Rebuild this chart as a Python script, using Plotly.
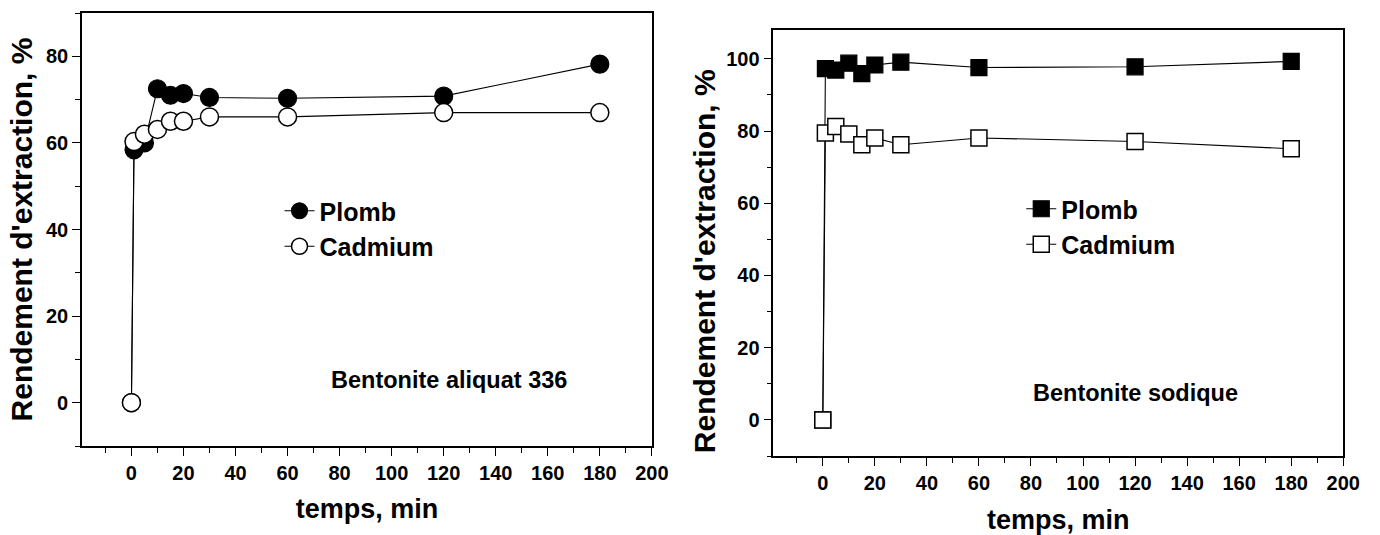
import plotly.graph_objects as go

# ---- data ----
temps = [0, 1, 5, 10, 15, 20, 30, 60, 120, 180]
plomb_aliquat = [0, 58.4, 60.0, 72.5, 71.0, 71.4, 70.5, 70.3, 70.8, 78.2]
cadmium_aliquat = [0, 60.3, 62.0, 63.1, 65.0, 65.0, 66.0, 66.0, 67.0, 67.0]
plomb_sodique = [0, 97.3, 96.9, 98.8, 95.9, 98.3, 99.1, 97.6, 97.8, 99.3]
cadmium_sodique = [0, 79.5, 81.3, 79.2, 76.2, 78.1, 76.2, 78.1, 77.1, 75.1]

x_ticks = [0, 20, 40, 60, 80, 100, 120, 140, 160, 180, 200]
y_ticks_left = [0, 20, 40, 60, 80]
y_ticks_right = [0, 20, 40, 60, 80, 100]

FONT = "Liberation Sans, Arial, sans-serif"
W, H = 1380, 535

fig = go.Figure()

line_style = dict(color="black", width=1.1)

fig.add_trace(go.Scatter(x=temps, y=plomb_aliquat, name="Plomb", mode="lines+markers",
                         line=line_style,
                         marker=dict(symbol="circle", size=18, color="black",
                                     line=dict(color="black", width=1.2)),
                         xaxis="x", yaxis="y", legend="legend"))
fig.add_trace(go.Scatter(x=temps, y=cadmium_aliquat, name="Cadmium", mode="lines+markers",
                         line=line_style,
                         marker=dict(symbol="circle", size=18, color="white",
                                     line=dict(color="black", width=1.5)),
                         xaxis="x", yaxis="y", legend="legend"))
fig.add_trace(go.Scatter(x=temps, y=plomb_sodique, name="Plomb", mode="lines+markers",
                         line=line_style,
                         marker=dict(symbol="square", size=16, color="black",
                                     line=dict(color="black", width=1.2)),
                         xaxis="x2", yaxis="y2", legend="legend2"))
fig.add_trace(go.Scatter(x=temps, y=cadmium_sodique, name="Cadmium", mode="lines+markers",
                         line=line_style,
                         marker=dict(symbol="square", size=16, color="white",
                                     line=dict(color="black", width=1.5)),
                         xaxis="x2", yaxis="y2", legend="legend2"))

tickfont = dict(family=FONT, size=20, color="black", weight="bold")
xtitlefont = dict(family=FONT, size=27, color="black", weight="bold")
ytitlefont = dict(family=FONT, size=30, color="black", weight="bold")
YTITLE = "Rendement d'extraction, %"

def xaxis(domain, anchor, standoff):
    return dict(domain=domain, anchor=anchor, range=[-19, 200],
                tickmode="array", tickvals=x_ticks,
                ticks="outside", ticklen=8, tickwidth=1.2, tickcolor="black",
                minor=dict(dtick=10, tick0=0, ticks="outside", ticklen=5,
                           tickwidth=1.2, tickcolor="black"),
                showline=True, linecolor="black", linewidth=1.5, mirror=True,
                showgrid=False, zeroline=False, tickfont=tickfont,
                title=dict(text="temps, min", font=xtitlefont, standoff=standoff))

def yaxis(domain, anchor, rng, vals, title, standoff):
    return dict(domain=domain, anchor=anchor, range=rng,
                tickmode="array", tickvals=vals,
                ticks="outside", ticklen=8, tickwidth=1.2, tickcolor="black",
                minor=dict(dtick=10, tick0=0, ticks="outside", ticklen=5,
                           tickwidth=1.2, tickcolor="black"),
                showline=True, linecolor="black", linewidth=1.5, mirror=True,
                showgrid=False, zeroline=False, tickfont=tickfont,
                title=dict(text=title, font=ytitlefont, standoff=standoff))

legfont = dict(family=FONT, size=25, color="black", weight="bold")

fig.update_layout(
    width=W, height=H,
    margin=dict(l=0, r=0, t=0, b=0),
    paper_bgcolor="white", plot_bgcolor="white",
    font=dict(family=FONT, color="black"),
    xaxis=xaxis([83 / W, 660 / W], "y", 16),
    yaxis=yaxis([1 - 446 / H, 1 - 13 / H], "x", [-10, 90], y_ticks_left, YTITLE, 4),
    xaxis2=xaxis([783 / W, 1360 / W], "y2", 20),
    yaxis2=yaxis([1 - 456 / H, 1 - 30 / H], "x2", [-10, 108], y_ticks_right, None, 0),
    legend=dict(x=283 / W, y=1 - 188 / H, xanchor="left", yanchor="top",
                bgcolor="rgba(0,0,0,0)", borderwidth=0,
                font=legfont, tracegroupgap=0, itemwidth=30),
    legend2=dict(x=1034 / W, y=1 - 186 / H, xanchor="left", yanchor="top",
                 bgcolor="rgba(0,0,0,0)", borderwidth=0,
                 font=legfont, tracegroupgap=0, itemwidth=30),
    showlegend=True,
    annotations=[
        dict(text="Bentonite aliquat 336", x=122, y=5.3, xref="x", yref="y",
             showarrow=False, font=dict(family=FONT, size=23.5, color="black", weight="bold")),
        dict(text="Bentonite sodique", x=120, y=7.5, xref="x2", yref="y2",
             showarrow=False, font=dict(family=FONT, size=23.5, color="black", weight="bold")),
        dict(text=YTITLE, textangle=-90, x=713 / W, y=1 - 261 / H,
             xref="paper", yref="paper", xanchor="center", yanchor="middle",
             showarrow=False, font=ytitlefont),
    ],
)

fig.write_html("out.html")
